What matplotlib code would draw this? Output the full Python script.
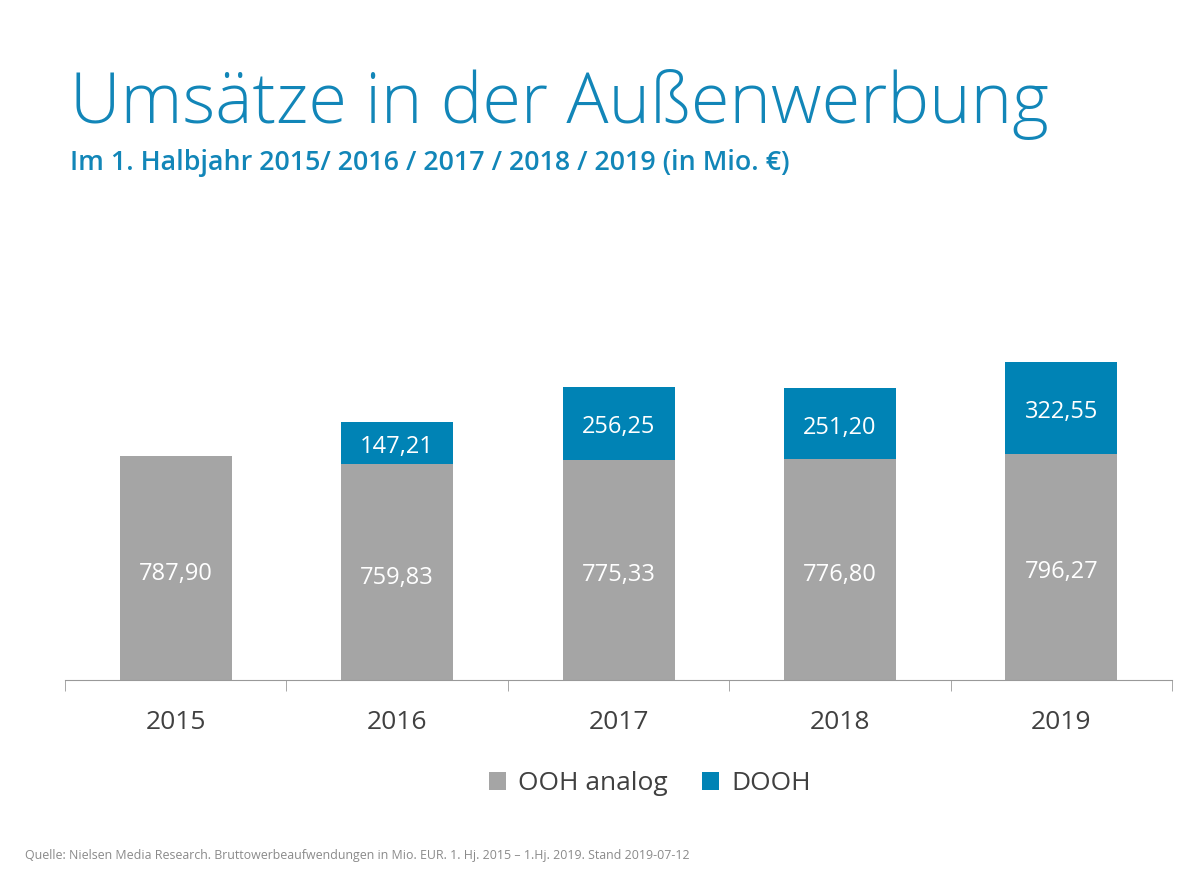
import numpy as np
import matplotlib.pyplot as plt

# Daten
jahre = ['2015', '2016', '2017', '2018', '2019']
ooh_analog = [787.90, 759.83, 775.33, 776.80, 796.27]
dooh = [0, 147.21, 256.25, 251.20, 322.55]
ooh_labels = ['787,90', '759,83', '775,33', '776,80', '796,27']
dooh_labels = ['', '147,21', '256,25', '251,20', '322,55']

grau = '#a5a5a5'
blau = '#0083b5'
titel_blau = '#1286b8'

plt.rcParams['font.family'] = ['Open Sans', 'DejaVu Sans']

fig = plt.figure(figsize=(12, 8.77), dpi=100)
ax = fig.add_axes([0.0542, 0.2247, 0.9225, 0.3888])

x = np.arange(len(jahre))
b1 = ax.bar(x, ooh_analog, width=0.506, color=grau, label='OOH analog')
b2 = ax.bar(x, dooh, width=0.506, bottom=ooh_analog, color=blau, label='DOOH')

# Beschriftungen in den Balken
for i in range(len(jahre)):
    ax.annotate(ooh_labels[i], (x[i], ooh_analog[i] * 0.5), xytext=(0, -4),
                textcoords='offset points', ha='center', va='center',
                color='white', fontsize=17)
    if dooh[i] > 0:
        ax.annotate(dooh_labels[i], (x[i], ooh_analog[i] + dooh[i] * 0.5), xytext=(0, -3),
                    textcoords='offset points', ha='center', va='center',
                    color='white', fontsize=17)

ax.set_xlim(-0.5, len(jahre) - 0.5)
ax.set_ylim(0, 1200)
for s in ['top', 'right', 'left']:
    ax.spines[s].set_visible(False)
ax.spines['bottom'].set_color('#999999')
ax.set_yticks([])
ax.set_xticks(x)
ax.set_xticklabels(jahre, fontsize=19, color='#404040')
ax.tick_params(axis='x', length=0, pad=22)
ax.set_xticks(np.arange(-0.5, len(jahre)), minor=True)
ax.tick_params(axis='x', which='minor', length=8, color='#999999', direction='out')

fig.legend(handles=[b1, b2], loc='center', bbox_to_anchor=(650 / 1200, 1 - 784 / 877),
           ncol=2, frameon=False, fontsize=19, handlelength=0.65, handleheight=0.65,
           handletextpad=0.45, columnspacing=1.3, labelcolor='#404040')

fig.text(70 / 1200, 1 - 105 / 877, 'Umsätze in der Außenwerbung', fontsize=50.5,
         color=titel_blau, fontweight='light', va='center', ha='left')
fig.text(70 / 1200, 1 - 163 / 877, 'Im 1. Halbjahr 2015/ 2016 / 2017 / 2018 / 2019 (in Mio. €)',
         fontsize=19.3, color=titel_blau, fontweight='semibold', va='center', ha='left')
fig.text(25 / 1200, 1 - 855 / 877,
         'Quelle: Nielsen Media Research. Bruttowerbeaufwendungen in Mio. EUR. 1. Hj. 2015 – 1.Hj. 2019. Stand 2019-07-12',
         fontsize=8.9, color='#8a8a8a', va='center', ha='left')

fig.savefig('out.png', dpi=100)
